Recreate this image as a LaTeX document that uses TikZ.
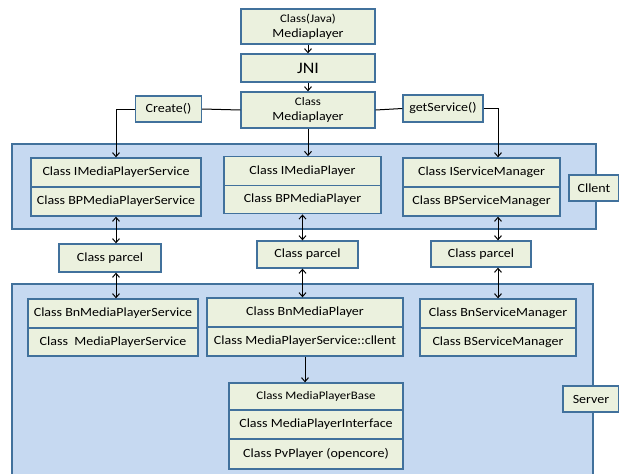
\documentclass[tikz,border=0pt]{standalone}
\usepackage{fontspec}
\setmainfont{Carlito}[FakeStretch=1.12]
\usetikzlibrary{arrows.meta}
\definecolor{cellfill}{HTML}{EBF1DE}
\definecolor{cellline}{HTML}{41719C}
\definecolor{layerfill}{HTML}{C6D9F1}

\begin{document}
\begin{tikzpicture}[x=1pt,y=-1pt]
    \useasboundingbox (0,0) rectangle (619,474);
    \tikzset{Layer/.style = {draw=cellline, line width=1.3pt, fill=layerfill}}
    \tikzset{Cell/.style = {draw=cellline, line width=1.3pt, fill=cellfill, inner sep=0pt,
        align=center, font=\fontsize{12.5}{14}\selectfont}}
    \tikzset{Link/.style = {line width=1pt, -{Straight Barb[length=4pt,width=7pt]}}}
    \tikzset{Both/.style = {line width=1pt, {Straight Barb[length=4pt,width=7pt]}-{Straight Barb[length=4pt,width=7pt]}}}

    \draw[Layer] (12,144) rectangle (596,229);
    \draw[Layer] (12,284) rectangle (593,480);

    \node[Cell, minimum width=134, minimum height=35] (java) at (308,26.5)
        {{\fontsize{11.5}{12}\selectfont Class(Java)}\\[1pt]Mediaplayer};
    \node[Cell, minimum width=134, minimum height=28, font=\fontsize{16}{18}\selectfont] (jni) at (308,68) {JNI};
    \node[Cell, minimum width=134, minimum height=36] (mp) at (308,110)
        {{\fontsize{11.5}{12}\selectfont Class}\\[1pt]Mediaplayer};
    \node[Cell, minimum width=66, minimum height=26] (create) at (168.5,109) {Create()};
    \node[Cell, minimum width=80, minimum height=27] (getsvc) at (443,108.5) {getService()};

    \node[Cell, minimum width=170, minimum height=29] (ims) at (116,172.5) {Class IMediaPlayerService};
    \node[Cell, minimum width=170, minimum height=29] (bpms) at (116,201.5) {Class BPMediaPlayerService};
    \node[Cell, minimum width=157, minimum height=28.5] (imp) at (302.5,171) {Class IMediaPlayer};
    \node[Cell, minimum width=157, minimum height=28.5] (bpmp) at (302.5,199.5) {Class BPMediaPlayer};
    \node[Cell, minimum width=157, minimum height=29] (ism) at (481.5,172.5) {Class IServiceManager};
    \node[Cell, minimum width=157, minimum height=29] (bpsm) at (481.5,201.5) {Class BPServiceManager};
    \node[Cell, minimum width=50, minimum height=26] (client) at (594,188) {Cllent};

    \node[Cell, minimum width=102, minimum height=28] (parcelA) at (110,258) {Class parcel};
    \node[Cell, minimum width=101, minimum height=27] (parcelB) at (307.5,254.5) {Class parcel};
    \node[Cell, minimum width=100, minimum height=26] (parcelC) at (481,254) {Class parcel};

    \node[Cell, minimum width=170, minimum height=29] (bnms) at (113,313.5) {Class BnMediaPlayerService};
    \node[Cell, minimum width=170, minimum height=28] (mps) at (113,342) {Class\ \ MediaPlayerService};
    \node[Cell, minimum width=196, minimum height=29] (bnmp) at (305,312.5) {Class BnMediaPlayer};
    \node[Cell, minimum width=196, minimum height=29] (mpsc) at (305,341.5) {Class MediaPlayerService::cllent};
    \node[Cell, minimum width=156, minimum height=29] (bnsm) at (498,313.5) {Class BnServiceManager};
    \node[Cell, minimum width=156, minimum height=28] (bsm) at (498,342) {Class BServiceManager};

    \node[Cell, minimum width=174, minimum height=27, font=\fontsize{11.5}{12}\selectfont] (mpb) at (316,396.5) {Class MediaPlayerBase};
    \node[Cell, minimum width=174, minimum height=29] (mpi) at (316,424.5) {Class MediaPlayerInterface};
    \node[Cell, minimum width=174, minimum height=30] (pvp) at (316,454) {Class PvPlayer (opencore)};
    \node[Cell, minimum width=56, minimum height=26] (server) at (591,399) {Server};

    \draw[Link] (java) -- (jni);
    \draw[Link] (jni) -- (mp);
    \draw[line width=1pt] (mp.west) -- (create.east);
    \draw[line width=1pt] (mp.east) -- (getsvc.west);
    \draw[Link] (create.west) -| (ims.north);
    \draw[Link] (getsvc.east) -| (ism.north -| bnsm.north);
    \draw[Link] (mp.south) -- (mp.south |- imp.north);

    \draw[Both] (bpms.south) -- (bpms.south |- parcelA.north);
    \draw[Both] (parcelA.south -| bpms.south) -- (bpms.south |- bnms.north);
    \draw[Both] (bpmp.south) -- (bpmp.south |- parcelB.north);
    \draw[Both] (parcelB.south -| bpmp.south) -- (bpmp.south |- bnmp.north);
    \draw[Both] (bpsm.south -| bnsm.north) -- (bnsm.north |- parcelC.north);
    \draw[Both] (parcelC.south -| bnsm.north) -- (bnsm.north);

    \draw[Link] (mpsc.south) -- (mpsc.south |- mpb.north);
\end{tikzpicture}
\end{document}
